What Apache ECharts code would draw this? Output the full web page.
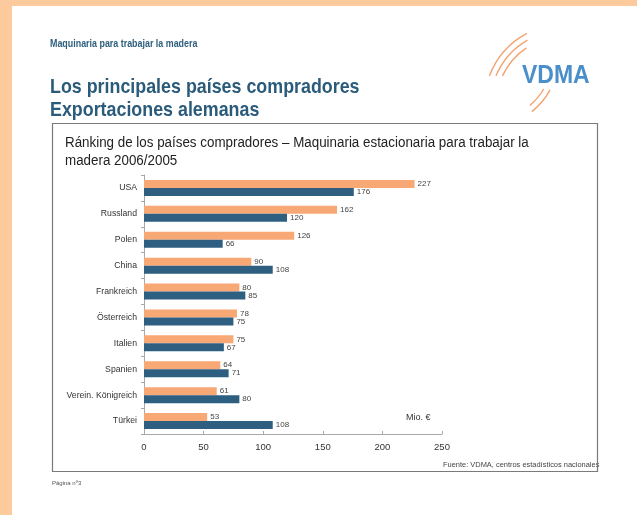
<!DOCTYPE html>
<html>
<head>
<meta charset="utf-8">
<script src="https://cdn.jsdelivr.net/npm/echarts@6/dist/echarts.min.js"></script>
<style>
html,body{margin:0;padding:0;background:#fff;}
#c{width:637px;height:515px;}
</style>
</head>
<body>
<div id="c"></div>
<script>
// ---- data ----
var categories = ['USA', 'Russland', 'Polen', 'China', 'Frankreich', 'Österreich', 'Italien', 'Spanien', 'Verein. Königreich', 'Türkei'];
var values2006 = [227, 162, 126, 90, 80, 78, 75, 64, 61, 53];
var values2005 = [176, 120, 66, 108, 85, 75, 67, 71, 80, 108];
var xTicks = [0, 50, 100, 150, 200, 250];

var headerText = 'Maquinaria para trabajar la madera';
var titleLines = ['Los principales países compradores', 'Exportaciones alemanas'];
var chartTitle = 'Ránking de los países compradores – Maquinaria estacionaria para trabajar la\nmadera 2006/2005';
var unitText = 'Mio. €';
var sourceText = 'Fuente: VDMA, centros estadísticos nacionales';
var pageText = 'Página nº3';

var ORANGE = '#F7A875';
var BLUE = '#2F5F80';
var FONT = '"Liberation Sans", Arial, sans-serif';

function deg(a) { return a * Math.PI / 180; }

var chart = echarts.init(document.getElementById('c'), null, {renderer: 'canvas'});
chart.setOption({
  backgroundColor: '#ffffff',
  animation: false,
  textStyle: {fontFamily: FONT},
  grid: {left: 144, right: 195, top: 175, bottom: 81, containLabel: false},
  xAxis: {
    type: 'value', min: xTicks[0], max: xTicks[xTicks.length - 1], interval: 50,
    axisLine: {show: true, lineStyle: {color: '#a8a8a8', width: 1}},
    axisTick: {show: true, inside: true, length: 3, lineStyle: {color: '#a8a8a8'}},
    splitLine: {show: false},
    axisLabel: {fontSize: 9.5, color: '#333', margin: 8, fontFamily: FONT}
  },
  yAxis: {
    type: 'category', data: categories, inverse: true,
    axisLine: {show: true, lineStyle: {color: '#a8a8a8', width: 1}},
    axisTick: {show: true, length: 3, lineStyle: {color: '#a8a8a8'}},
    axisLabel: {fontSize: 8.7, color: '#333', margin: 7, fontFamily: FONT}
  },
  series: [
    {
      name: '2006', type: 'bar', data: values2006, barWidth: 8, barGap: '0%',
      itemStyle: {color: ORANGE},
      label: {show: true, position: 'right', distance: 3, fontSize: 8, color: '#444', fontFamily: FONT}
    },
    {
      name: '2005', type: 'bar', data: values2005, barWidth: 8, barGap: '0%',
      itemStyle: {color: BLUE},
      label: {show: true, position: 'right', distance: 3, fontSize: 8, color: '#444', fontFamily: FONT}
    }
  ],
  graphic: [
    // page border (scan background)
    {type: 'rect', left: 0, top: 0, z: -10, shape: {width: 637, height: 6}, style: {fill: '#FCCA9D'}},
    {type: 'rect', left: 0, top: 0, z: -10, shape: {width: 12, height: 515}, style: {fill: '#FCCA9D'}},
    // header
    {type: 'text', x: 50, y: 44, scaleX: 0.89, style: {text: headerText, font: 'bold 10px ' + FONT, fill: '#2E5F7C', textVerticalAlign: 'middle'}},
    {type: 'text', x: 50, y: 87, scaleX: 0.85, style: {text: titleLines[0], font: 'bold 21px ' + FONT, fill: '#2B5B7B', textVerticalAlign: 'middle'}},
    {type: 'text', x: 50, y: 110, scaleX: 0.85, style: {text: titleLines[1], font: 'bold 21px ' + FONT, fill: '#2B5B7B', textVerticalAlign: 'middle'}},
    // VDMA logo
    {type: 'arc', shape: {cx: 565, cy: 105, r: 81, startAngle: deg(201), endAngle: deg(242), clockwise: true}, style: {fill: null, stroke: '#F4A26E', lineWidth: 1.4}},
    {type: 'arc', shape: {cx: 565, cy: 105, r: 75, startAngle: deg(203), endAngle: deg(240), clockwise: true}, style: {fill: null, stroke: '#F4A26E', lineWidth: 1.4}},
    {type: 'arc', shape: {cx: 565, cy: 105, r: 69, startAngle: deg(205), endAngle: deg(236), clockwise: true}, style: {fill: null, stroke: '#F4A26E', lineWidth: 1.4}},
    {type: 'arc', shape: {cx: 490, cy: 58, r: 68, startAngle: deg(28), endAngle: deg(52), clockwise: true}, style: {fill: null, stroke: '#F4A26E', lineWidth: 1.4}},
    {type: 'arc', shape: {cx: 490, cy: 58, r: 62, startAngle: deg(30), endAngle: deg(50), clockwise: true}, style: {fill: null, stroke: '#F4A26E', lineWidth: 1.4}},
    {type: 'text', x: 522, y: 76, scaleX: 0.92, style: {text: 'VDMA', font: 'bold 25px ' + FONT, fill: '#4A8FCA', textVerticalAlign: 'middle'}},
    // chart frame
    {type: 'rect', shape: {x: 52.5, y: 123.5, width: 545, height: 348}, style: {fill: null, stroke: '#7a7a7a', lineWidth: 1.2}, z: 5},
    // chart title
    {type: 'text', x: 65, y: 134, scaleX: 0.955, style: {text: chartTitle, font: '14px ' + FONT, fill: '#222', lineHeight: 18}},
    // unit
    {type: 'text', x: 406, y: 418, style: {text: unitText, font: '9px ' + FONT, fill: '#333', textVerticalAlign: 'middle'}},
    // source
    {type: 'text', x: 443, y: 465, scaleX: 0.98, style: {text: sourceText, font: '7.6px ' + FONT, fill: '#444', textVerticalAlign: 'middle'}},
    // page number
    {type: 'text', x: 52, y: 483, style: {text: pageText, font: '6px ' + FONT, fill: '#555', textVerticalAlign: 'middle'}}
  ]
});
</script>
</body>
</html>
